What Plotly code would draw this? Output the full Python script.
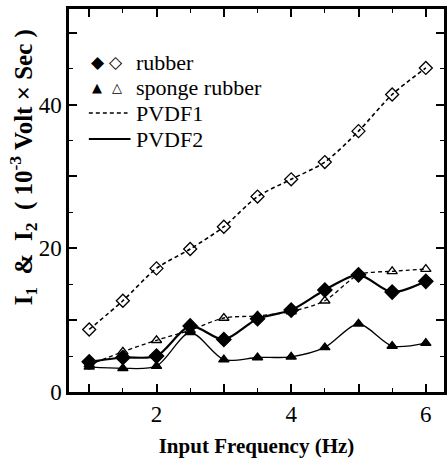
import plotly.graph_objects as go

freq = [1, 1.5, 2, 2.5, 3, 3.5, 4, 4.5, 5, 5.5, 6]
rubber_pvdf1 = [8.7, 12.7, 17.2, 19.9, 23.0, 27.2, 29.6, 32.0, 36.3, 41.4, 45.1]
rubber_pvdf2 = [4.2, 4.8, 5.0, 9.2, 7.3, 10.2, 11.4, 14.2, 16.3, 13.9, 15.4]
sponge_pvdf1 = [3.8, 5.6, 7.2, 8.6, 10.3, 10.6, 11.2, 12.7, 16.3, 16.8, 17.1]
sponge_pvdf2 = [3.5, 3.3, 3.6, 8.3, 4.5, 4.8, 4.9, 6.2, 9.5, 6.4, 6.8]

x_tickvals = [1, 2, 3, 4, 5, 6]
x_ticktext = ["", "2", "", "4", "", "6"]
y_tickvals = [0, 10, 20, 30, 40, 50]
y_ticktext = ["0", "", "20", "", "40", ""]

FONT = "Liberation Serif"
fig = go.Figure()

def add(y, symbol, dash, size, width):
    fig.add_trace(go.Scatter(
        x=freq, y=y, mode="lines+markers",
        line=dict(color="black", width=width, dash=dash, shape="spline", smoothing=0.8),
        marker=dict(symbol=symbol, size=size, color="black",
                    line=dict(color="black", width=1.3)),
        showlegend=False))

add(rubber_pvdf1, "diamond-open", "4px,3px", 10, 1.6)
add(sponge_pvdf1, "triangle-up-open", "4px,3px", 9, 1.3)
add(sponge_pvdf2, "triangle-up", "solid", 9, 1.3)
add(rubber_pvdf2, "diamond", "solid", 11, 2.2)

L, R, T, B = 69, 447, 9, 392

def px_x(p):
    return (p - L) / (R - L)

def px_y(p):
    return (B - p) / (B - T)

# legend (decoration)
ann = []
def txt(x, y, s, size=22, family=FONT, xanchor="left"):
    ann.append(dict(x=px_x(x), y=px_y(y), xref="paper", yref="paper", text=s, showarrow=False,
                    xanchor=xanchor, yanchor="middle",
                    font=dict(family=family, size=size, color="black")))

txt(89, 62, "◆", size=17, family="DejaVu Sans")
txt(107, 62, "◇", size=17, family="DejaVu Sans")
txt(135, 62, "rubber")
txt(90, 87, "▲", size=13, family="DejaVu Sans")
txt(110, 87, "△", size=13, family="DejaVu Sans")
txt(135, 87, "sponge rubber")
txt(135, 113, "PVDF1")
txt(135, 139, "PVDF2")

# y-axis title
ann.append(dict(x=px_x(23), y=px_y(167), xref="paper", yref="paper",
                text="<b>I<sub>1</sub>  &  I<sub>2</sub>  ( 10<sup>-3</sup> Volt × Sec )</b>",
                showarrow=False, textangle=-90, xanchor="center", yanchor="middle",
                font=dict(family=FONT, size=25, color="black")))

shapes = [
    dict(type="line", xref="paper", yref="paper", x0=px_x(89), x1=px_x(128),
         y0=px_y(113), y1=px_y(113), line=dict(color="black", width=1.5, dash="4px,3px")),
    dict(type="line", xref="paper", yref="paper", x0=px_x(89), x1=px_x(131),
         y0=px_y(139), y1=px_y(139), line=dict(color="black", width=2)),
]

fig.update_layout(
    width=448, height=458,
    margin=dict(l=L, r=448 - R, t=T, b=458 - B),
    paper_bgcolor="white", plot_bgcolor="white",
    font=dict(family=FONT, color="black", size=22),
    annotations=ann, shapes=shapes,
    xaxis=dict(range=[0.7, 6.27], tickvals=x_tickvals, ticktext=x_ticktext,
               ticks="inside", ticklen=8, tickwidth=1.5, tickcolor="black",
               minor=dict(dtick=0.5, tick0=0, ticks="inside", ticklen=4, tickwidth=1.3, tickcolor="black"),
               showline=True, linewidth=2.5, linecolor="black", mirror="allticks",
               showgrid=False, zeroline=False,
               tickfont=dict(size=23, family=FONT),
               title=dict(text="<b>Input Frequency (Hz)</b>", font=dict(size=21, family=FONT), standoff=12)),
    yaxis=dict(range=[0, 53.3], tickvals=y_tickvals, ticktext=y_ticktext,
               ticks="inside", ticklen=8, tickwidth=1.5, tickcolor="black",
               minor=dict(dtick=5, tick0=0, ticks="inside", ticklen=4, tickwidth=1.3, tickcolor="black"),
               showline=True, linewidth=2.5, linecolor="black", mirror="allticks",
               showgrid=False, zeroline=False,
               tickfont=dict(size=23, family=FONT)),
)

fig.write_html("out.html")
